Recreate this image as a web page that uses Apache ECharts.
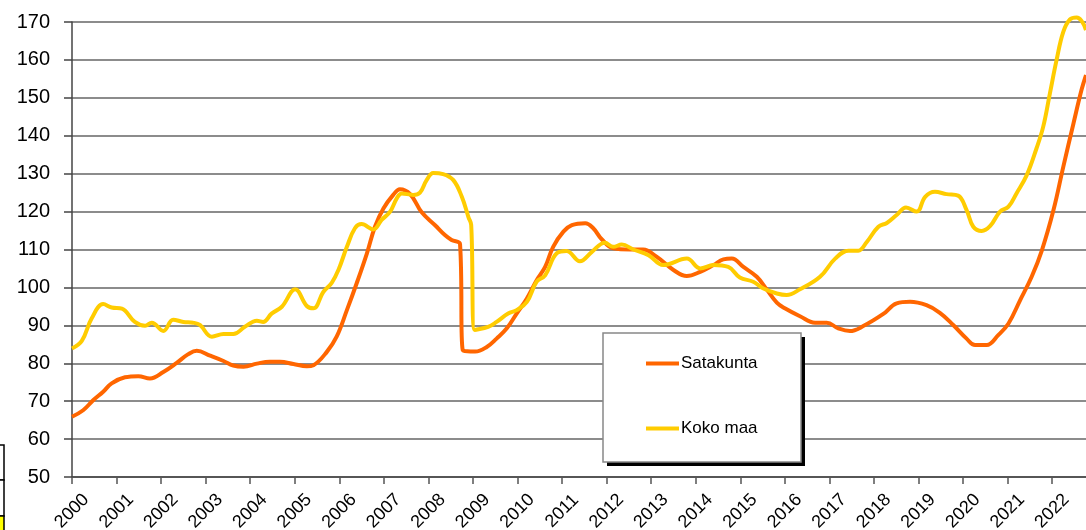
<!DOCTYPE html>
<html>
<head>
<meta charset="utf-8">
<script src="https://cdn.jsdelivr.net/npm/echarts@6/dist/echarts.min.js"></script>
<style>
  html, body { margin: 0; padding: 0; background: #fff; }
  #chart { width: 1086px; height: 530px; }
</style>
</head>
<body>
<div id="chart"></div>
<script>
const seriesNames = ['Satakunta', 'Koko maa'];

// [year, index]
const satakunta = [
  [2000.00, 65.9], [2000.25, 67.6], [2000.48, 70.3], [2000.70, 72.5], [2000.89, 74.7],
  [2001.19, 76.3], [2001.49, 76.6], [2001.75, 76.0], [2002.05, 77.7], [2002.35, 80.1],
  [2002.61, 82.4], [2002.80, 83.3], [2003.10, 82.0], [2003.40, 80.6], [2003.62, 79.4],
  [2003.85, 79.1], [2004.15, 79.9], [2004.44, 80.4], [2004.67, 80.4], [2004.97, 79.8],
  [2005.27, 79.2], [2005.42, 79.5], [2005.72, 83.0], [2005.94, 87.0], [2006.17, 94.0],
  [2006.39, 101.1], [2006.62, 109.0], [2006.80, 116.0], [2006.99, 120.8], [2007.21, 124.4],
  [2007.36, 125.9], [2007.59, 124.6], [2007.85, 119.8], [2008.15, 116.4], [2008.37, 113.8],
  [2008.52, 112.5], [2008.71, 111.4], [2008.77, 83.5], [2009.05, 83.1], [2009.31, 84.3],
  [2009.53, 86.5], [2009.76, 89.2], [2009.98, 93.1], [2010.21, 97.1], [2010.43, 101.9],
  [2010.62, 105.4], [2010.80, 110.7], [2011.03, 114.7], [2011.22, 116.4], [2011.52, 116.9],
  [2011.70, 115.6], [2011.89, 112.7], [2012.15, 110.3], [2012.53, 110.0], [2012.82, 110.0],
  [2013.12, 108.1], [2013.50, 104.6], [2013.80, 103.0], [2014.10, 104.1], [2014.40, 105.9],
  [2014.62, 107.4], [2014.81, 107.6], [2015.07, 105.4], [2015.37, 102.8], [2015.59, 99.5],
  [2015.82, 96.0], [2016.00, 94.5], [2016.34, 92.4], [2016.68, 90.7], [2016.94, 90.7],
  [2017.20, 89.2], [2017.46, 88.5], [2017.76, 89.8], [2018.21, 93.0], [2018.51, 95.8],
  [2018.81, 96.2], [2019.18, 95.3], [2019.48, 93.3], [2019.78, 90.1], [2020.08, 86.5],
  [2020.27, 84.8], [2020.53, 84.8], [2020.79, 87.4], [2021.02, 90.5], [2021.28, 96.6],
  [2021.54, 102.8], [2021.77, 109.8], [2022.03, 120.4], [2022.25, 131.8], [2022.48, 143.3],
  [2022.66, 152.1], [2022.76, 156.0]
];

const kokoMaa = [
  [2000.00, 83.9], [2000.22, 85.9], [2000.44, 91.8], [2000.70, 95.6], [2000.89, 94.7],
  [2001.12, 94.4], [2001.41, 90.9], [2001.64, 89.9], [2001.79, 90.7], [2002.05, 88.5],
  [2002.27, 91.5], [2002.50, 90.9], [2002.72, 90.7], [2002.87, 90.1], [2003.14, 87.0],
  [2003.40, 87.7], [2003.62, 87.7], [2003.88, 89.6], [2004.15, 91.2], [2004.29, 90.9],
  [2004.48, 93.1], [2004.71, 94.9], [2005.01, 99.5], [2005.27, 95.1], [2005.42, 94.5],
  [2005.64, 98.8], [2005.83, 101.2], [2005.98, 104.6], [2006.17, 110.7], [2006.35, 115.6],
  [2006.50, 116.7], [2006.76, 115.3], [2006.95, 117.8], [2007.14, 120.0], [2007.29, 123.5],
  [2007.40, 124.8], [2007.66, 124.4], [2007.81, 125.0], [2007.96, 128.3], [2008.11, 130.2],
  [2008.33, 129.9], [2008.56, 128.3], [2008.75, 123.9], [2008.90, 118.5], [2008.96, 116.5],
  [2009.04, 88.8], [2009.34, 89.6], [2009.53, 90.9], [2009.79, 93.1], [2009.98, 94.0],
  [2010.21, 96.2], [2010.43, 101.5], [2010.62, 103.2], [2010.88, 109.0], [2011.10, 109.6],
  [2011.40, 106.9], [2011.67, 109.4], [2011.96, 111.8], [2012.15, 110.7], [2012.34, 111.3],
  [2012.60, 110.0], [2012.94, 108.5], [2013.27, 105.9], [2013.80, 107.6], [2014.10, 105.0],
  [2014.40, 105.9], [2014.73, 105.4], [2014.99, 102.6], [2015.29, 101.5], [2015.52, 99.7],
  [2015.82, 98.4], [2016.04, 98.0], [2016.34, 99.5], [2016.79, 102.8], [2017.13, 107.6],
  [2017.43, 109.7], [2017.65, 109.7], [2017.84, 112.0], [2018.10, 116.0], [2018.29, 117.0],
  [2018.51, 119.1], [2018.72, 121.1], [2018.96, 120.0], [2019.15, 123.9], [2019.37, 125.2],
  [2019.63, 124.6], [2019.89, 124.2], [2020.08, 120.4], [2020.23, 116.0], [2020.42, 114.9],
  [2020.61, 116.2], [2020.83, 120.0], [2021.02, 121.3], [2021.20, 124.8], [2021.43, 129.6],
  [2021.65, 136.7], [2021.80, 142.4], [2021.95, 151.2], [2022.10, 160.0], [2022.25, 167.4],
  [2022.40, 170.7], [2022.55, 171.2], [2022.66, 170.3], [2022.76, 167.9]
];

const chart = echarts.init(document.getElementById('chart'));

const axisFont = { fontFamily: 'Liberation Sans, Arial, sans-serif', color: '#000' };

const option = {
  animation: false,
  backgroundColor: '#fff',
  grid: { left: 72, top: 22, right: 0, bottom: 53, outerBoundsMode: 'none', containLabel: false },
  xAxis: {
    type: 'value',
    min: 2000,
    max: 2022.76,
    interval: 1,
    axisLine: { show: true, lineStyle: { color: '#444', width: 1.5 } },
    axisTick: { show: true, length: 7, lineStyle: { color: '#555', width: 1.5 } },
    splitLine: { show: false },
    axisLabel: {
      ...axisFont,
      fontSize: 18,
      rotate: 45,
      align: 'center',
      verticalAlign: 'middle',
      margin: 34,
      showMaxLabel: false,
      formatter: v => (Number.isInteger(v) ? String(v) : '')
    }
  },
  yAxis: {
    type: 'value',
    min: 50,
    max: 170,
    interval: 10,
    axisLine: { show: true, lineStyle: { color: '#444', width: 1.5 } },
    axisTick: { show: true, length: 8, lineStyle: { color: '#444', width: 1.5 } },
    splitLine: { show: true, lineStyle: { color: '#666', width: 1.5 } },
    axisLabel: { ...axisFont, fontSize: 20, margin: 22 }
  },
  legend: {
    orient: 'vertical',
    left: 603,
    top: 333,
    padding: [22, 46, 21, 43],
    itemGap: 48,
    itemWidth: 33,
    itemHeight: 4,
    icon: 'rect',
    z: 10,
    textStyle: { ...axisFont, fontSize: 17, padding: [0, 0, 0, -3] },
    data: seriesNames
  },
  series: [
    {
      name: seriesNames[0],
      type: 'line',
      data: satakunta,
      showSymbol: false,
      symbol: 'none',
      smooth: 0.4,
      clip: false,
      color: '#FF6600',
      lineStyle: { color: '#FF6600', width: 4 }
    },
    {
      name: seriesNames[1],
      type: 'line',
      data: kokoMaa,
      showSymbol: false,
      symbol: 'none',
      smooth: 0.4,
      clip: false,
      color: '#FFCC00',
      lineStyle: { color: '#FFCC00', width: 4 }
    }
  ],
  graphic: [
    // legend frame with its drop shadow
    { type: 'rect', z: 8, shape: { x: 607, y: 337, width: 198, height: 129 }, style: { fill: '#000' } },
    { type: 'rect', z: 9, shape: { x: 603, y: 333, width: 198, height: 129 }, style: { fill: '#fff', stroke: '#888', lineWidth: 1.5 } },
    // clipped table at the bottom-left edge
    { type: 'rect', shape: { x: -5, y: 445, width: 9, height: 35 }, style: { fill: '#fff', stroke: '#000', lineWidth: 1.5 } },
    { type: 'rect', shape: { x: -5, y: 480, width: 9, height: 36 }, style: { fill: '#fff', stroke: '#000', lineWidth: 1.5 } },
    { type: 'rect', shape: { x: -5, y: 516, width: 9, height: 20 }, style: { fill: '#FFFF00', stroke: '#000', lineWidth: 1.5 } }
  ]
};

chart.setOption(option);
</script>
</body>
</html>
